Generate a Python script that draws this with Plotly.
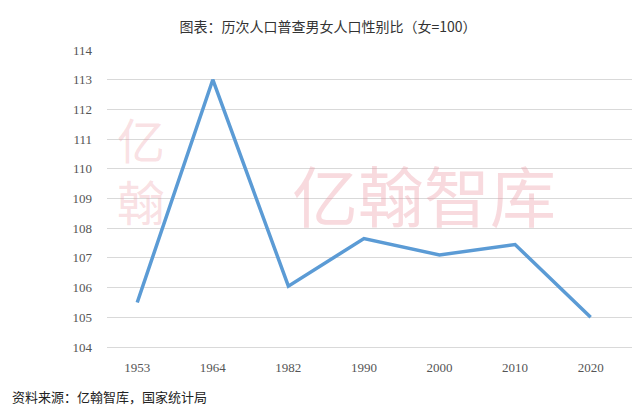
import plotly.graph_objects as go

years = ["1953", "1964", "1982", "1990", "2000", "2010", "2020"]
ratio = [105.5, 113.0, 106.05, 107.65, 107.1, 107.45, 105.0]
y_ticks = list(range(104, 115))

fig = go.Figure()
fig.add_trace(go.Scatter(
    x=years, y=ratio, mode="lines",
    line=dict(color="#5b9bd5", width=3.5),
))

# watermark
fig.add_annotation(text="亿翰智库", x=0.6, y=0.52, xref="paper", yref="paper",
                   showarrow=False, font=dict(family="Noto Sans CJK SC", size=66, color="rgba(236,150,160,0.35)"))
fig.add_annotation(text="亿<br>翰", x=0.0, y=0.6, xref="paper", yref="paper", xanchor="left", xshift=8,
                   showarrow=False, font=dict(family="Noto Sans CJK SC", size=48, color="rgba(236,150,160,0.3)"))

fig.update_layout(
    width=640, height=418,
    margin=dict(l=99, r=12, t=42, b=79),
    paper_bgcolor="white", plot_bgcolor="white",
    showlegend=False,
    title=dict(text="图表：历次人口普查男女人口性别比（女=100）", x=0.5, y=0.965, xanchor="center",
               font=dict(family="Noto Sans CJK SC", size=14, color="#333333")),
    font=dict(family="Liberation Serif", size=13, color="#555555"),
    xaxis=dict(type="category", range=[-0.4, 6.6], showgrid=False, showline=True, linecolor="#d9d9d9",
               ticks="", tickfont=dict(size=13), ticklabelstandoff=8, automargin=False),
    yaxis=dict(range=[104, 114], tickvals=y_ticks, showgrid=True, gridcolor="#d9d9d9",
               zeroline=False, ticks="", tickfont=dict(size=13), ticklabelstandoff=14, automargin=False),
)
fig.add_annotation(text="资料来源：亿翰智库，国家统计局", x=0, y=0, xref="paper", yref="paper",
                   xshift=-97, yshift=-38, xanchor="left", yanchor="top", showarrow=False,
                   font=dict(family="Noto Sans CJK SC", size=13, color="#222222"))

fig.write_html("out.html")
